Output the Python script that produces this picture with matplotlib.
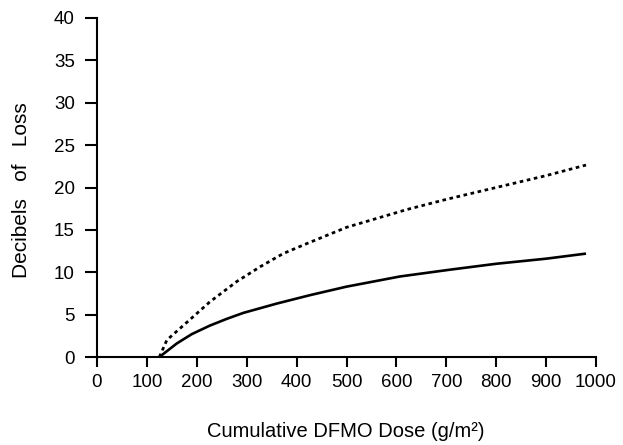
import matplotlib
matplotlib.use("Agg")
import matplotlib.pyplot as plt

plt.rcParams['font.family'] = ['Liberation Sans', 'DejaVu Sans']

# Data
solid_x = [125, 160, 190, 226, 260, 293, 360, 427, 500, 607, 707, 800, 900, 980]
solid_y = [0.0, 1.6, 2.7, 3.7, 4.5, 5.2, 6.3, 7.3, 8.3, 9.5, 10.3, 11.0, 11.6, 12.2]

dashed_x = [125, 140, 186, 226, 280, 327, 373, 413, 500, 621, 700, 800, 900, 980]
dashed_y = [0.0, 2.0, 4.4, 6.5, 8.9, 10.65, 12.2, 13.2, 15.3, 17.4, 18.6, 20.0, 21.4, 22.65]

x_ticks = [0, 100, 200, 300, 400, 500, 600, 700, 800, 900, 1000]
y_ticks = [0, 5, 10, 15, 20, 25, 30, 35, 40]

W, H = 623, 445
fig = plt.figure(figsize=(W/100, H/100), dpi=100)
ax = fig.add_axes([97/W, 1-357/H, (596-97)/W, (357-18)/H])

ax.plot(solid_x, solid_y, color='black', lw=1.9, solid_capstyle='butt')
ax.plot(dashed_x, dashed_y, color='black', lw=2.0, linestyle=(0, (1.3, 1.3)),
        dash_capstyle='butt')

ax.set_xlim(0, 1000)
ax.set_ylim(0, 40)
ax.set_xticks(x_ticks)
ax.set_yticks(y_ticks)
ax.tick_params(axis='x', direction='out', length=7, width=1.5, labelsize=13.5, pad=5, colors='black')
ax.tick_params(axis='y', direction='out', length=9, width=1.5, labelsize=13.5, pad=7, colors='black')

for s in ['top', 'right']:
    ax.spines[s].set_visible(False)
for s in ['left', 'bottom']:
    ax.spines[s].set_linewidth(1.5)

fig.text(346/W, 1-436.7/H, 'Cumulative DFMO Dose (g/m²)', fontsize=14.5,
         ha='center', va='baseline')
fig.text(22/W, 1-190/H, 'Decibels   of   Loss', fontsize=15,
         ha='center', va='center', rotation=90)

fig.savefig('out.png', dpi=100)
